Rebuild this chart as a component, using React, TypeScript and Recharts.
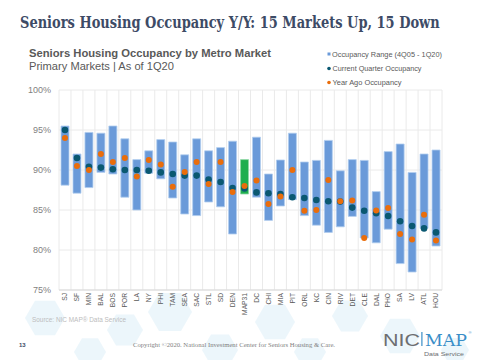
import { useLayoutEffect, useRef, useState } from "react";
import { ComposedChart, Bar, Line, XAxis, YAxis, CartesianGrid, Cell } from "recharts";

const markets = [
  "SJ", "SF", "MIN", "BAL", "BOS", "POR", "LA", "NY", "PHI", "TAM", "SEA",
  "SAC", "STL", "SD", "DEN", "MAP31", "DC", "CHI", "MIA", "PIT", "ORL", "KC",
  "CIN", "RIV", "DET", "CLE", "DAL", "PHO", "SA", "LV", "ATL", "HOU",
];
// occupancy range 4Q05 - 1Q20
const rangeLow = [
  88.1, 87.1, 87.8, 89.7, 89.5, 86.6, 85.0, 89.6, 88.9, 86.5, 84.5,
  84.3, 86.0, 85.4, 82.0, 87.0, 86.6, 83.7, 85.5, 86.3, 84.3, 83.1,
  82.2, 82.9, 84.2, 81.5, 80.9, 82.6, 78.3, 77.25, 82.7, 80.5,
];
const rangeHigh = [
  95.5, 92.0, 94.7, 94.6, 95.5, 93.9, 91.3, 92.4, 93.8, 93.5, 91.9,
  93.9, 92.4, 92.8, 93.6, 91.3, 94.1, 89.5, 91.25, 94.6, 91.0, 91.2,
  93.7, 89.9, 91.3, 91.2, 87.3, 92.3, 93.25, 89.7, 92.0, 92.5,
];
const currentQtr = [
  95.0, 91.5, 90.4, 90.3, 90.1, 90.0, 90.0, 89.9, 89.7, 89.5, 89.3,
  89.3, 88.8, 88.5, 87.75, 87.7, 87.2, 87.1, 87.0, 86.6, 86.5, 86.25,
  86.1, 86.05, 85.3, 84.9, 84.6, 84.25, 83.6, 83.0, 82.7, 82.2,
];
const yearAgo = [
  94.0, 90.5, 90.0, 92.0, 91.0, 91.5, 89.2, 91.25, 90.7, 87.9, 89.75,
  91.0, 88.25, 91.0, 87.25, 88.0, 88.7, 85.75, 86.7, 90.0, 84.9, 85.0,
  88.75, 86.1, 86.2, 81.5, 84.95, 85.25, 82.0, 81.3, 84.4, 81.2,
];
const yTicks = [75, 80, 85, 90, 95, 100];

const data = markets.map((m, i) => ({
  name: m,
  range: [rangeLow[i], rangeHigh[i]],
  cur: currentQtr[i],
  ago: yearAgo[i],
}));

const BLUE = "#6A9AD9";
const TEAL = "#0A5871";
const ORANGE = "#EA6D0B";
const GREEN = "#1EAE4E";
const SANS = "'Liberation Sans', Arial, sans-serif";

const hexes = [
  [45, 318, 20], [125, 330, 18], [170, 312, 22], [275, 322, 20], [350, 316, 18],
  [400, 336, 20], [90, 352, 16], [220, 350, 18], [310, 352, 16], [455, 350, 14],
];

function hexPoints(cx: number, cy: number, r: number) {
  const pts: string[] = [];
  for (let k = 0; k < 6; k++) {
    const a = (Math.PI / 3) * k;
    pts.push(`${cx + r * Math.cos(a)},${cy + r * Math.sin(a)}`);
  }
  return pts.join(" ");
}

function XTick(props: any) {
  const { x, y, payload } = props;
  return (
    <text
      x={x}
      y={y}
      dy="0.35em"
      transform={`rotate(-90, ${x}, ${y})`}
      textAnchor="end"
      fontSize={6.7}
      fill="#595959"
      fontFamily={SANS}
    >
      {payload.value}
    </text>
  );
}

// title squeezed to the slide's width by measuring it once
function Title() {
  const ref = useRef<SVGTextElement>(null);
  const [sx, setSx] = useState(1);
  useLayoutEffect(() => {
    if (ref.current) {
      const w = ref.current.getComputedTextLength();
      if (w > 0) setSx(420 / w);
    }
  }, []);
  return (
    <text
      ref={ref}
      transform={`translate(20, 27.5) scale(${sx}, 1)`}
      fontFamily="'DejaVu Serif', serif"
      fontWeight="600"
      fontSize={17}
      fill="#3D4B66"
    >
      Seniors Housing Occupancy Y/Y: 15 Markets Up, 15 Down
    </text>
  );
}

export default function App() {
  return (
    <div style={{ position: "absolute", left: 0, top: 0, width: 480, height: 360, background: "#fff", overflow: "hidden" }}>
      <svg width={480} height={360} style={{ position: "absolute", left: 0, top: 0 }}>
        {hexes.map(([cx, cy, r], i) => (
          <polygon key={i} points={hexPoints(cx, cy, r)} fill="#E4F2F9" opacity={0.7} />
        ))}
        <Title />
        <text x={29} y={57.3} fontFamily={SANS} fontWeight="bold" fontSize={11} fill="#595959" textLength={242} lengthAdjust="spacingAndGlyphs">
          Seniors Housing Occupancy by Metro Market
        </text>
        <text x={29} y={69.5} fontFamily={SANS} fontSize={10.3} fill="#595959" textLength={145} lengthAdjust="spacingAndGlyphs">
          Primary Markets | As of 1Q20
        </text>
        <rect x={327.5} y={52.5} width={3} height={3} fill={BLUE} />
        <text x={332} y={56.5} fontFamily={SANS} fontSize={7} fill="#595959" textLength={110} lengthAdjust="spacingAndGlyphs">
          Occupancy Range (4Q05 - 1Q20)
        </text>
        <circle cx={329} cy={68.5} r={1.8} fill={TEAL} />
        <text x={332.5} y={71} fontFamily={SANS} fontSize={7} fill="#595959" textLength={89} lengthAdjust="spacingAndGlyphs">
          Current Quarter Occupancy
        </text>
        <circle cx={329} cy={82.5} r={1.8} fill={ORANGE} />
        <text x={332.5} y={85} fontFamily={SANS} fontSize={7} fill="#595959" textLength={69} lengthAdjust="spacingAndGlyphs">
          Year Ago Occupancy
        </text>
        <text x={32} y={321.5} fontFamily={SANS} fontSize={6.5} fill="#BDBDBD" textLength={94} lengthAdjust="spacingAndGlyphs">
          Source: NIC MAP® Data Service
        </text>
        <text x={19} y={347} fontFamily={SANS} fontWeight="bold" fontSize={6} fill="#3D4B66">
          13
        </text>
        <text x={133} y={347} fontFamily="'Liberation Serif', serif" fontSize={6} fill="#7F7F7F" textLength={202} lengthAdjust="spacingAndGlyphs">
          Copyright ©2020. National Investment Center for Seniors Housing &amp; Care.
        </text>
        <text x={383} y={346} fontFamily={SANS} fontSize={17} fill="#6D6E71" textLength={37} lengthAdjust="spacingAndGlyphs">
          NIC
        </text>
        <rect x={421.3} y={332} width={1.2} height={14} fill="#3A8EC8" />
        <text x={425} y={346} fontFamily="'DejaVu Serif', serif" fontSize={17} fill="#3A8EC8" textLength={42} lengthAdjust="spacingAndGlyphs">
          MAP
        </text>
        <text x={468.5} y={334} fontFamily={SANS} fontSize={4} fill="#3A8EC8">®</text>
        <text x={424} y={355.5} fontFamily={SANS} fontSize={6} fill="#6D6E71" textLength={40} lengthAdjust="spacingAndGlyphs">
          Data Service
        </text>
      </svg>
      <div style={{ position: "absolute", left: 0, top: 0 }}>
        <ComposedChart
          width={480}
          height={360}
          data={data}
          margin={{ top: 90, right: 38, bottom: 30, left: 9 }}
          barCategoryGap={0}
        >
          <CartesianGrid
            stroke="#EAEAEA"
            strokeWidth={1}
            verticalCoordinatesGenerator={({ offset }: any) =>
              Array.from({ length: markets.length + 1 }, (_, i) => offset.left + (i * offset.width) / markets.length)
            }
          />
          <XAxis
            dataKey="name"
            interval={0}
            height={40}
            tickLine={false}
            tickSize={0}
            tickMargin={3}
            axisLine={{ stroke: "#D9D9D9" }}
            tick={<XTick />}
          />
          <YAxis
            domain={[75, 100]}
            ticks={yTicks}
            width={50}
            axisLine={false}
            tickLine={false}
            tickFormatter={(v: number) => `${v}%`}
            tick={{ fontSize: 9, fill: "#7F7F7F", fontFamily: SANS }}
          />
          <Bar dataKey="range" barSize={8} fill={BLUE} stroke="#B3CEEF" strokeWidth={0.8} isAnimationActive={false}>
            {data.map((d) => (
              <Cell key={d.name} fill={d.name === "MAP31" ? GREEN : BLUE} stroke={d.name === "MAP31" ? "#8ED8A5" : "#B3CEEF"} />
            ))}
          </Bar>
          <Line dataKey="cur" stroke="none" dot={{ r: 3.3, fill: TEAL, stroke: "none" }} activeDot={false} isAnimationActive={false} />
          <Line dataKey="ago" stroke="none" dot={{ r: 3, fill: ORANGE, stroke: "none" }} activeDot={false} isAnimationActive={false} />
        </ComposedChart>
      </div>
    </div>
  );
}
